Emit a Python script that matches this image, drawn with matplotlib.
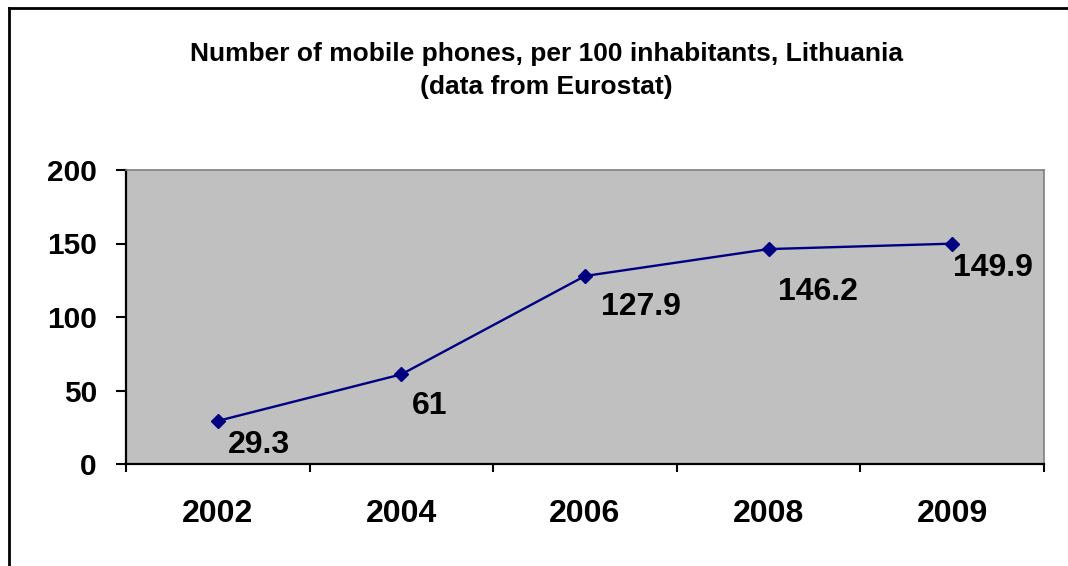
import matplotlib
matplotlib.use("Agg")
import matplotlib.pyplot as plt
from matplotlib.lines import Line2D

years = ["2002", "2004", "2006", "2008", "2009"]
values = [29.3, 61, 127.9, 146.2, 149.9]
value_labels = ["29.3", "61", "127.9", "146.2", "149.9"]
y_ticks = [0, 50, 100, 150, 200]

# label offsets in pixels (dx, dy) relative to each point
label_offsets_px = [(10, -24), (10, -32), (16, -31), (9, -43), (1, -24)]

plt.rcParams['font.family'] = ['Liberation Sans', 'DejaVu Sans']
plt.rcParams['font.weight'] = 'bold'

W, H = 1068, 566
fig = plt.figure(figsize=(W / 100, H / 100), dpi=100)
ax = fig.add_axes([126 / W, 1 - 464 / H, (1044 - 126) / W, (464 - 170) / H])
ax.set_facecolor('#C0C0C0')

xs = [i + 0.5 for i in range(len(years))]
ax.plot(xs, values, color='#000080', lw=1.7, marker='D', ms=7.5,
        markerfacecolor='#000080', markeredgecolor='#000080', zorder=3)

px = 72 / 100
for x, v, lab, (dx, dy) in zip(xs, values, value_labels, label_offsets_px):
    ax.annotate(lab, (x, v), xytext=(dx * px, dy * px), textcoords='offset points',
                ha='left', va='center', fontsize=23, fontweight='bold', color='black')

ax.set_xlim(0, len(years))
ax.set_ylim(0, 200)
ax.set_yticks(y_ticks)
ax.set_yticklabels([str(t) for t in y_ticks], fontsize=21.5, fontweight='bold')
ax.tick_params(axis='y', direction='out', length=7, width=1.5, pad=14, color='black')

ax.set_xticks(range(len(years) + 1))
ax.set_xticklabels([])
ax.tick_params(axis='x', which='major', direction='out', length=6, width=1.5, color='black')
ax.set_xticks(xs, minor=True)
ax.set_xticklabels(years, minor=True, fontsize=23, fontweight='bold')
ax.tick_params(axis='x', which='minor', length=0, pad=25)

for s in ['top', 'right']:
    ax.spines[s].set_color('#808080')
    ax.spines[s].set_linewidth(1.2)
for s in ['left', 'bottom']:
    ax.spines[s].set_color('black')
    ax.spines[s].set_linewidth(1.6)

fig.text(546 / W, 1 - 53.5 / H, "Number of mobile phones, per 100 inhabitants, Lithuania",
         ha='center', va='center', fontsize=19, fontweight='bold')
fig.text(546 / W, 1 - 87 / H, "(data from Eurostat)",
         ha='center', va='center', fontsize=19, fontweight='bold')

# outer frame (top and left edges visible)
fig.add_artist(Line2D([8.5 / W, 1], [1 - 7.5 / H, 1 - 7.5 / H], transform=fig.transFigure,
                      color='black', lw=2))
fig.add_artist(Line2D([8.5 / W, 8.5 / W], [0, 1 - 7.5 / H], transform=fig.transFigure,
                      color='black', lw=2))

fig.savefig("out.png", dpi=100, facecolor='white')
